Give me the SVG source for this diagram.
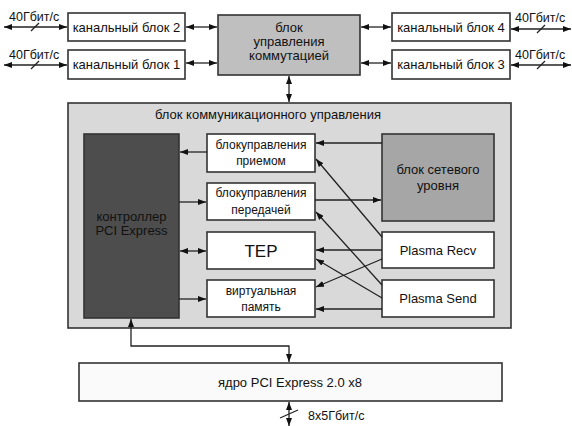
<svg xmlns="http://www.w3.org/2000/svg" width="572" height="426" viewBox="0 0 572 426">
<defs>
<marker id="ah" viewBox="0 0 8 6" refX="8" refY="3" markerWidth="8" markerHeight="6" markerUnits="userSpaceOnUse" orient="auto-start-reverse">
<path d="M0,0 L8,3 L0,6 z" fill="#111"/>
</marker>
<style>
.box{stroke:#333;stroke-width:1.6}
.w{fill:#fff}
.t{font-family:"Liberation Sans",Arial,sans-serif;font-size:13px;fill:#111;text-anchor:middle}
.s{font-size:12px}
.big{font-size:17px}
.l{font-size:12.5px;text-anchor:start}
.c{fill:none;stroke:#222;stroke-width:1.3}
.a{marker-end:url(#ah)}
.aa{marker-start:url(#ah);marker-end:url(#ah)}
</style>
</defs>
<rect width="572" height="426" fill="#fff"/>

<g id="ch2"><rect class="box w" x="68" y="13" width="117" height="28"/><text class="t" x="126.5" y="31.5">канальный блок 2</text></g>
<g id="ch1"><rect class="box w" x="68" y="50" width="117" height="29"/><text class="t" x="126.5" y="69">канальный блок 1</text></g>
<g id="ch4"><rect class="box w" x="392" y="13" width="118" height="28"/><text class="t" x="451" y="31.5">канальный блок 4</text></g>
<g id="ch3"><rect class="box w" x="392" y="50" width="118" height="29"/><text class="t" x="451" y="69">канальный блок 3</text></g>
<g id="switch"><rect class="box" x="218" y="15" width="142" height="60" fill="#bfbfbf"/>
<text class="t" x="289" y="32">блок</text><text class="t" x="289" y="46">управления</text><text class="t" x="289" y="60">коммутацией</text></g>

<g id="comm"><rect class="box" x="68" y="103" width="443" height="225" fill="#d9d9d9"/>
<text class="t" x="268" y="119">блок коммуникационного управления</text></g>
<g id="pcie"><rect class="box" x="84" y="134" width="95" height="184" fill="#4d4d4d"/>
<text class="t" x="131.5" y="221">контроллер</text><text class="t" x="131.5" y="235">PCI Express</text></g>
<g id="rx"><rect class="box w" x="207" y="134" width="108" height="38"/><text class="t s" x="261" y="149">блокуправления</text><text class="t s" x="261" y="165">приемом</text></g>
<g id="tx"><rect class="box w" x="207" y="183" width="108" height="37"/><text class="t s" x="261" y="197">блокуправления</text><text class="t s" x="261" y="214">передачей</text></g>
<g id="tep"><rect class="box w" x="207" y="232" width="108" height="37"/><text class="t big" x="261" y="257">TEP</text></g>
<g id="vmem"><rect class="box w" x="207" y="280" width="108" height="37"/><text class="t s" x="261" y="295">виртуальная</text><text class="t s" x="261" y="311">память</text></g>
<g id="net"><rect class="box" x="382" y="134" width="112" height="87" fill="#a6a6a6"/>
<text class="t" x="438" y="174">блок сетевого</text><text class="t" x="438" y="190">уровня</text></g>
<g id="precv"><rect class="box w" x="382" y="232" width="112" height="36"/><text class="t" x="438" y="255">Plasma Recv</text></g>
<g id="psend"><rect class="box w" x="382" y="280" width="112" height="37"/><text class="t" x="438" y="303">Plasma Send</text></g>
<g id="core"><rect class="box" x="79" y="363" width="423" height="38" fill="#fafafa"/><text class="t" x="290" y="387">ядро PCI Express 2.0 x8</text></g>

<g id="links">
<!-- external 40G links -->
<line class="c aa" x1="4" y1="27" x2="67" y2="27"/>
<line class="c aa" x1="4" y1="65" x2="67" y2="65"/>
<line class="c aa" x1="511" y1="29" x2="571" y2="29"/>
<line class="c aa" x1="511" y1="65" x2="571" y2="65"/>
<line class="c" x1="31" y1="31" x2="39" y2="23"/>
<line class="c" x1="31" y1="69" x2="39" y2="61"/>
<line class="c" x1="537" y1="33" x2="545" y2="25"/>
<line class="c" x1="537" y1="69" x2="545" y2="61"/>
<!-- channel blocks to switch -->
<line class="c aa" x1="186" y1="27" x2="217" y2="27"/>
<line class="c aa" x1="186" y1="63" x2="217" y2="63"/>
<line class="c aa" x1="361" y1="27" x2="391" y2="27"/>
<line class="c aa" x1="361" y1="63" x2="391" y2="63"/>
<line class="c aa" x1="289" y1="76" x2="289" y2="102"/>
<!-- inside communication block -->
<line class="c a" x1="207" y1="152" x2="180" y2="152"/>
<line class="c a" x1="179" y1="202" x2="206" y2="202"/>
<line class="c aa" x1="180" y1="251" x2="206" y2="251"/>
<line class="c a" x1="179" y1="299" x2="206" y2="299"/>
<line class="c a" x1="382" y1="143" x2="316" y2="143"/>
<line class="c a" x1="315" y1="200" x2="381" y2="200"/>
<line class="c a" x1="382" y1="237" x2="316" y2="159"/>
<line class="c a" x1="382" y1="285" x2="316" y2="212"/>
<line class="c a" x1="382" y1="250" x2="316" y2="250"/>
<line class="c a" x1="382" y1="298" x2="316" y2="259"/>
<line class="c a" x1="382" y1="259" x2="316" y2="287"/>
<line class="c a" x1="382" y1="309" x2="316" y2="309"/>
<!-- controller to core -->
<polyline class="c aa" points="131,319 131,346 289,346 289,362"/>
<line class="c aa" x1="289" y1="402" x2="289" y2="426"/>
<line class="c" x1="280" y1="418" x2="298" y2="410"/>
</g>

<g id="labels">
<text class="t l" x="9" y="21">40Гбит/с</text>
<text class="t l" x="9" y="59">40Гбит/с</text>
<text class="t l" x="515" y="22">40Гбит/с</text>
<text class="t l" x="515" y="59">40Гбит/с</text>
<text class="t l" x="308" y="420">8x5Гбит/с</text>
</g>
</svg>
